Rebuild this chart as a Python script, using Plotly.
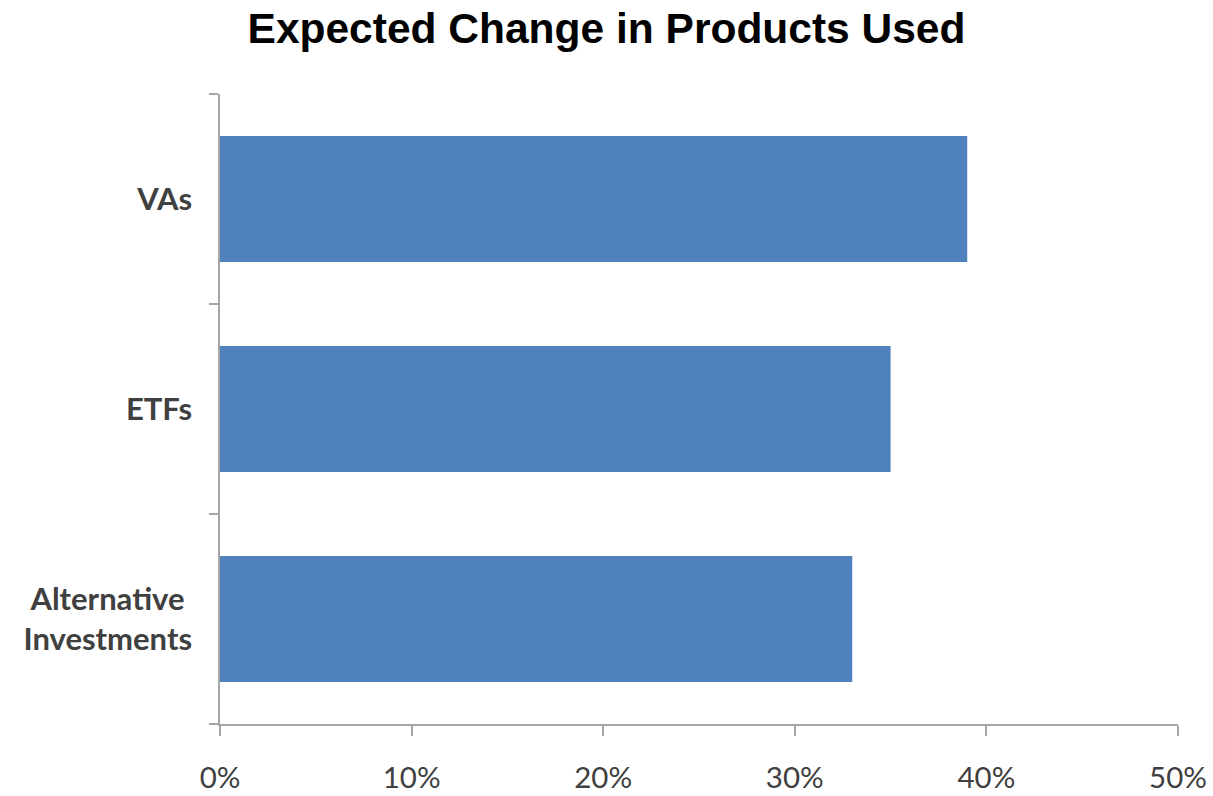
import plotly.graph_objects as go

categories = ["Alternative\u00a0<br>Investments", "ETFs", "VAs"]
values = [0.33, 0.35, 0.39]
x_ticks = [0, 0.1, 0.2, 0.3, 0.4, 0.5]
x_ticklabels = ["0%", "10%", "20%", "30%", "40%", "50%"]

fig = go.Figure(go.Bar(
    x=values, y=categories, orientation="h",
    marker=dict(color="#4F81BD", line=dict(width=0)),
    width=0.6,
))

fig.update_layout(
    width=1213, height=796,
    margin=dict(l=220, r=35, t=94, b=72),
    paper_bgcolor="white", plot_bgcolor="white",
    showlegend=False,
    title=dict(text="<b>Expected Change in Products Used</b>",
               x=0.5, xanchor="center", y=0.965, yanchor="middle",
               font=dict(family="Liberation Sans, Arial", size=42.5, color="black")),
    xaxis=dict(range=[0, 0.5], tickvals=x_ticks, ticktext=x_ticklabels,
               automargin=False,
               showgrid=False, zeroline=False, showline=True, linecolor="#A6A6A6", linewidth=1.5,
               ticks="outside", ticklen=10, tickcolor="#A6A6A6", tickwidth=1.5,
               ticklabelstandoff=17,
               tickfont=dict(family="Lato", size=29.5, color="#404040")),
    yaxis=dict(automargin=False,
               showgrid=False, zeroline=False, showline=True, linecolor="#A6A6A6", linewidth=1.5,
               ticks="outside", ticklen=9, tickcolor="#A6A6A6", tickwidth=1.5,
               tickson="boundaries", ticklabelstandoff=20,
               tickfont=dict(family="Lato", size=31, color="#404040", weight="bold")),
)

fig.write_html("out.html")
